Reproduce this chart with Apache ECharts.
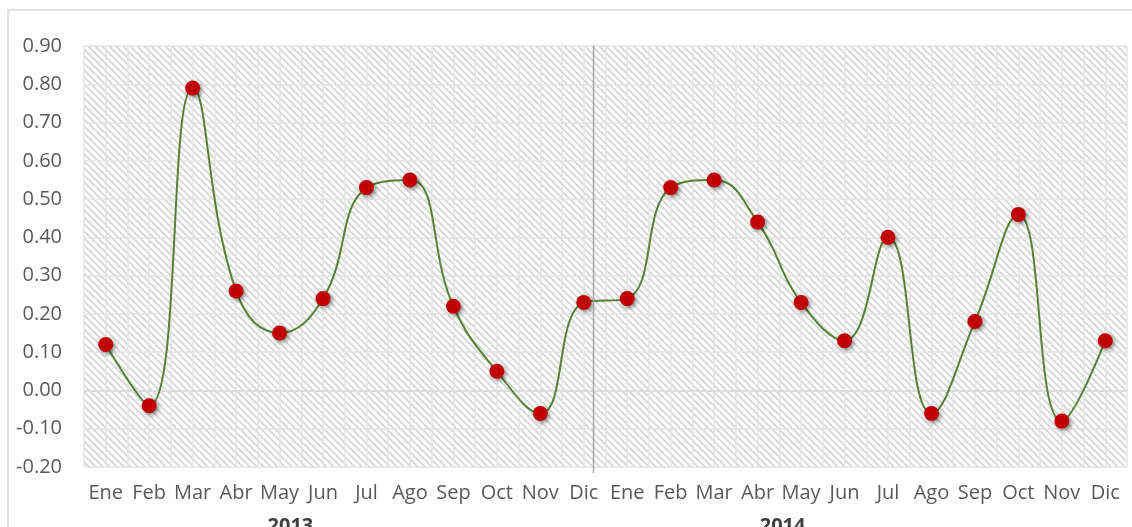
<!DOCTYPE html>
<html>
<head>
<meta charset="utf-8">
<script src="https://cdn.jsdelivr.net/npm/echarts@6/dist/echarts.min.js"></script>
<style>
  html, body { margin: 0; padding: 0; background: #fff; }
  #main { width: 1132px; height: 527px; }
</style>
</head>
<body>
<div id="main"></div>
<script>
// months, two years
var months = ['Ene', 'Feb', 'Mar', 'Abr', 'May', 'Jun', 'Jul', 'Ago', 'Sep', 'Oct', 'Nov', 'Dic'];
var years = ['2013', '2014'];
var values2013 = [0.12, -0.04, 0.79, 0.26, 0.15, 0.24, 0.53, 0.55, 0.22, 0.05, -0.06, 0.23];
var values2014 = [0.24, 0.53, 0.55, 0.44, 0.23, 0.13, 0.40, -0.06, 0.18, 0.46, -0.08, 0.13];

var categories = months.concat(months);
var values = values2013.concat(values2014);

// hatch pattern for the plot area
function makeHatch() {
  var c = document.createElement('canvas');
  c.width = 7;
  c.height = 7;
  var ctx = c.getContext('2d');
  ctx.fillStyle = '#ffffff';
  ctx.fillRect(0, 0, 7, 7);
  ctx.strokeStyle = '#d4d4d4';
  ctx.lineWidth = 1.6;
  ctx.beginPath();
  ctx.moveTo(-1, -1);
  ctx.lineTo(8, 8);
  ctx.moveTo(-8, -1);
  ctx.lineTo(1, 8);
  ctx.moveTo(6, -1);
  ctx.lineTo(15, 8);
  ctx.stroke();
  return c;
}

var labelColor = '#595959';
var gridColor = '#e4e4e4';
var font = 'Open Sans';

var chart = echarts.init(document.getElementById('main'));
var option = {
  animation: false,
  grid: {
    left: 84,
    right: 5,
    top: 46,
    bottom: 60,
    show: true,
    borderWidth: 0,
    backgroundColor: { image: makeHatch(), repeat: 'repeat' }
  },
  xAxis: [{
    type: 'category',
    data: categories,
    boundaryGap: true,
    axisLine: { show: true, lineStyle: { color: '#d9d9d9', width: 1.5 } },
    axisTick: { show: false },
    splitLine: { show: false },
    axisLabel: {
      interval: 0,
      margin: 16,
      color: labelColor,
      fontFamily: font,
      fontSize: 20
    }
  }, {
    // half-category grid lines
    type: 'value',
    min: 0,
    max: 48,
    interval: 1,
    position: 'bottom',
    axisLine: { show: false },
    axisTick: { show: false },
    axisLabel: { show: false },
    splitLine: { show: true, lineStyle: { color: gridColor, width: 1.5 } }
  }],
  yAxis: {
    type: 'value',
    min: -0.2,
    max: 0.9,
    interval: 0.1,
    axisLine: { show: false },
    axisTick: { show: false },
    axisLabel: {
      margin: 22,
      color: labelColor,
      fontFamily: font,
      fontSize: 20,
      formatter: function(v) { return v.toFixed(2); }
    },
    splitLine: { show: true, lineStyle: { color: gridColor, width: 1.5 } }
  },
  series: [{
    type: 'line',
    data: values,
    smooth: 0.45,
    symbol: 'circle',
    symbolSize: 15,
    lineStyle: { color: '#548235', width: 2 },
    itemStyle: {
      color: '#c00000',
      shadowBlur: 4,
      shadowColor: 'rgba(0,0,0,0.45)',
      shadowOffsetX: 2,
      shadowOffsetY: 2
    }
  }]
};
chart.setOption(option);

// year separator and year labels, placed from the axes
var sepX = chart.convertToPixel({ xAxisIndex: 1 }, 23.45);
var yTop = chart.convertToPixel({ yAxisIndex: 0 }, 0.9);
var yBottom = chart.convertToPixel({ yAxisIndex: 0 }, -0.2);
var yearX = [chart.convertToPixel({ xAxisIndex: 1 }, 9.5), chart.convertToPixel({ xAxisIndex: 1 }, 32.15)];

chart.setOption({
  graphic: [{
    type: 'rect',
    shape: { x: 8, y: 10, width: 1300, height: 700 },
    style: { fill: 'none', stroke: '#d9d9d9', lineWidth: 1.5 },
    silent: true,
    z: -10
  }, {
    type: 'line',
    shape: { x1: sepX, y1: yTop, x2: sepX, y2: yBottom + 6 },
    style: { stroke: '#a6a6a6', lineWidth: 1.5 },
    z: 5
  }].concat(years.map(function(y, i) {
    return {
      type: 'text',
      x: yearX[i],
      y: yBottom + 49,
      style: {
        text: y,
        fill: '#404040',
        font: 'bold 20px "Open Sans"',
        textAlign: 'center',
        textVerticalAlign: 'top'
      }
    };
  }))
});
</script>
</body>
</html>
